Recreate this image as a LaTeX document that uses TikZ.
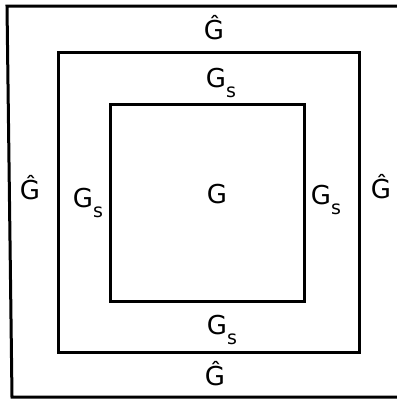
\documentclass[tikz,border=0pt]{standalone}
\usepackage{fontspec}
\setmainfont{DejaVu Sans}
\usetikzlibrary{positioning}

\newcommand{\subs}{\raisebox{-0.35em}{\fontsize{19}{20}\selectfont s}}

\begin{document}
\begin{tikzpicture}[x=1pt,y=-1pt,line width=3pt,
    region/.style={draw,line join=miter},
    lbl/.style={font=\fontsize{26}{30}\selectfont,inner sep=0pt}]
    \useasboundingbox (0,0) rectangle (397,400);
    % the three nested regions
    \draw[region] (397,6) -- (7,6) -- (12,397) -- (397,397);
    \draw[region] (58,52) rectangle (359,352);
    \draw[region] (110,104) rectangle (304,301);
    % labels
    \node[lbl] (g) at (217,194) {G};
    \node[lbl] (gs top) at (221,83) {G\subs};
    \node[lbl] (gs bot) at (222,330) {G\subs};
    \node[lbl] (gs left) at (88,203) {G\subs};
    \node[lbl] (gs right) at (326,200) {G\subs};
    \node[lbl] (gh top) at (214,28) {Ĝ};
    \node[lbl] (gh bot) at (215,374) {Ĝ};
    \node[lbl] (gh left) at (30,188) {Ĝ};
    \node[lbl] (gh right) at (381,187) {Ĝ};
\end{tikzpicture}
\end{document}
